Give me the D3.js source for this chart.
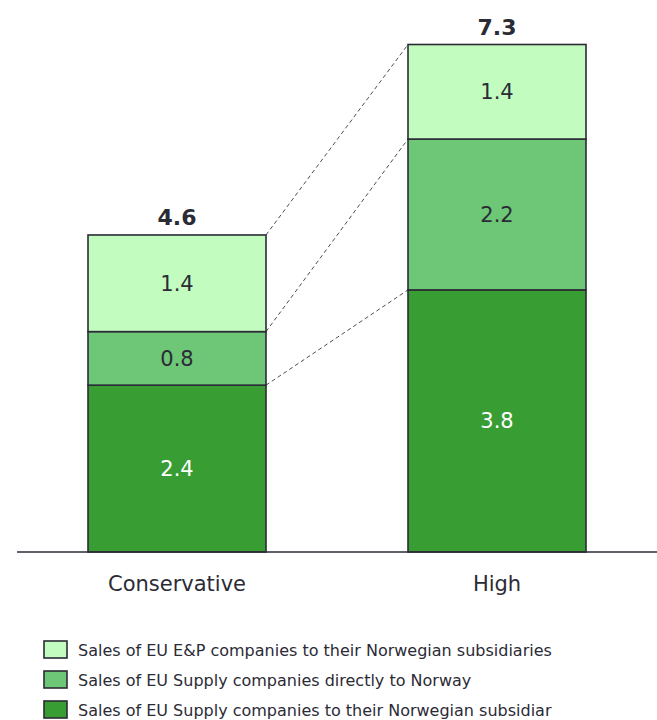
<!DOCTYPE html>
<html>
<head>
<meta charset="utf-8">
<script src="https://cdn.jsdelivr.net/npm/d3@7"></script>
<style>
  html, body { margin: 0; padding: 0; background: #fff; }
  svg { display: block; font-family: "DejaVu Sans", Verdana, sans-serif; }
</style>
</head>
<body>
<svg id="chart" width="657" height="720"></svg>
<script>
// Scenarios on the x axis
const scenarios = ["Conservative", "High"];

// Series, stacked bottom to top (EUR bn)
const seriesNames = [
  "Sales of EU Supply companies to their Norwegian subsidiar",
  "Sales of EU Supply companies directly to Norway",
  "Sales of EU E&P companies to their Norwegian subsidiaries"
];
const supplySubsidiaries = [2.40, 3.77];
const supplyDirect       = [0.77, 2.17];
const epSubsidiaries     = [1.39, 1.36];

const seriesColors = ["#389e34", "#6dc776", "#c2fdbf"];
const labelColors  = ["#ffffff", "#2b2b36", "#2b2b36"];

const svg = d3.select("#chart");
const W = 657, H = 720;
const baseY = 552;

const rows = scenarios.map((s, i) => ({
  scenario: s,
  v0: supplySubsidiaries[i],
  v1: supplyDirect[i],
  v2: epSubsidiaries[i]
}));
const stack = d3.stack().keys(["v0", "v1", "v2"]);
const layers = stack(rows);

const x = d3.scaleBand().domain(scenarios).range([8, 666])
  .paddingInner(0.44375).paddingOuter(0.25);
const y = d3.scaleLinear().domain([0, 7.3]).range([baseY, 44.5]);
const fmt = d3.format(".1f");

// Dashed connectors between the two stacks
const c0 = x(scenarios[0]) + x.bandwidth();
const c1 = x(scenarios[1]);
const edges = layers.map(l => [l[0][1], l[1][1]]);
svg.append("g").selectAll("line").data(edges).join("line")
  .attr("x1", c0).attr("y1", d => y(d[0]))
  .attr("x2", c1).attr("y2", d => y(d[1]))
  .attr("stroke", "#3a3a3a").attr("stroke-width", 0.9)
  .attr("stroke-dasharray", "4,3");

// Stacked segments
const g = svg.append("g");
layers.forEach((layer, li) => {
  g.append("g").selectAll("rect").data(layer).join("rect")
    .attr("x", d => x(d.data.scenario))
    .attr("width", x.bandwidth())
    .attr("y", d => y(d[1]))
    .attr("height", d => y(d[0]) - y(d[1]))
    .attr("fill", seriesColors[li])
    .attr("stroke", "#2b2b36")
    .attr("stroke-width", 1.6);
});

// Segment value labels
layers.forEach((layer, li) => {
  svg.append("g").selectAll("text").data(layer).join("text")
    .attr("x", d => x(d.data.scenario) + x.bandwidth() / 2)
    .attr("y", d => (y(d[0]) + y(d[1])) / 2)
    .attr("dy", "0.35em")
    .attr("text-anchor", "middle")
    .attr("font-size", 21)
    .attr("fill", labelColors[li])
    .text(d => fmt(d[1] - d[0]));
});

// Totals
svg.append("g").selectAll("text").data(rows).join("text")
  .attr("x", d => x(d.scenario) + x.bandwidth() / 2)
  .attr("y", d => y(d.v0 + d.v1 + d.v2) - 10)
  .attr("text-anchor", "middle")
  .attr("font-size", 22)
  .attr("font-weight", "bold")
  .attr("fill", "#2b2b36")
  .text(d => fmt(d.v0 + d.v1 + d.v2));

// Baseline and category labels
const xAxis = svg.append("g").attr("transform", `translate(0,${baseY})`)
  .call(d3.axisBottom(x).tickSize(0).tickPadding(24));
xAxis.select(".domain").attr("d", `M17,0H${W}`).attr("stroke", "#2b2b36").attr("stroke-width", 1.5);
xAxis.selectAll(".tick text")
  .attr("font-family", "DejaVu Sans, Verdana, sans-serif")
  .attr("font-size", 21)
  .attr("fill", "#2b2b36");

// Legend (top entry is the top layer)
const legendItems = seriesNames.map((n, i) => ({ name: n, color: seriesColors[i] })).reverse();
const lg = svg.append("g").selectAll("g").data(legendItems).join("g")
  .attr("transform", (d, i) => `translate(44,${641 + i * 30})`);
lg.append("rect")
  .attr("width", 23).attr("height", 17)
  .attr("fill", d => d.color)
  .attr("stroke", "#2b2b36").attr("stroke-width", 1.6);
lg.append("text")
  .attr("x", 34).attr("y", 9).attr("dy", "0.35em")
  .attr("font-size", 16)
  .attr("fill", "#2b2b36")
  .text(d => d.name);
</script>
</body>
</html>
